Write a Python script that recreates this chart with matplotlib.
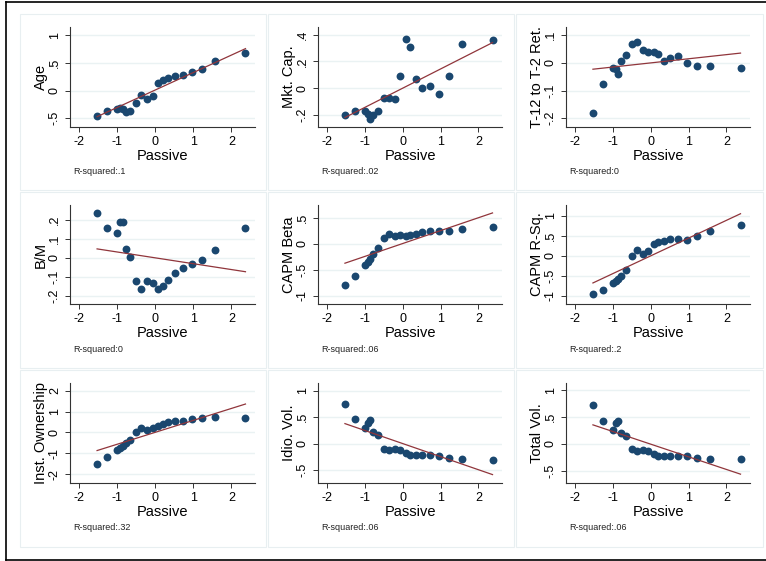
import matplotlib
matplotlib.use("Agg")
import matplotlib.pyplot as plt
from matplotlib.patches import Rectangle
from matplotlib.lines import Line2D
import numpy as np

plt.rcParams['font.family'] = ['Liberation Sans', 'DejaVu Sans']

# ---------------- data ----------------
passive = [-1.52, -1.26, -1.0, -0.92, -0.85, -0.77, -0.65, -0.49, -0.36, -0.21,
           -0.06, 0.08, 0.20, 0.35, 0.52, 0.72, 0.96, 1.22, 1.57, 2.37]

age = [-0.46, -0.36, -0.34, -0.32, -0.33, -0.38, -0.36, -0.23, -0.07, -0.15,
       -0.10, 0.13, 0.19, 0.22, 0.26, 0.29, 0.33, 0.40, 0.54, 0.68]
mktcap = [-0.20, -0.17, -0.17, -0.19, -0.23, -0.20, -0.17, -0.07, -0.07, -0.08,
          0.09, 0.37, 0.31, 0.07, 0.00, 0.015, -0.04, 0.09, 0.33, 0.36]
mom = [-0.18, -0.075, -0.02, -0.022, -0.04, 0.007, 0.03, 0.07, 0.076, 0.048,
       0.04, 0.04, 0.031, 0.007, 0.016, 0.025, -0.002, -0.012, -0.012, -0.02]
bm = [0.239, 0.156, 0.13, 0.19, 0.19, 0.046, 0.002, -0.125, -0.163, -0.125,
      -0.133, -0.165, -0.147, -0.116, -0.082, -0.054, -0.032, -0.014, 0.042, 0.156]
beta = [-0.79, -0.62, -0.42, -0.36, -0.30, -0.20, -0.08, 0.10, 0.18, 0.15,
        0.17, 0.15, 0.16, 0.19, 0.23, 0.24, 0.25, 0.24, 0.27, 0.32]
rsq = [-0.95, -0.85, -0.67, -0.62, -0.57, -0.50, -0.36, 0.0, 0.15, 0.04,
       0.12, 0.29, 0.35, 0.36, 0.41, 0.43, 0.40, 0.50, 0.63, 0.77]
instown = [-1.52, -1.18, -0.85, -0.75, -0.65, -0.52, -0.38, 0.02, 0.20, 0.12,
           0.20, 0.30, 0.42, 0.48, 0.56, 0.56, 0.64, 0.69, 0.72, 0.70]
idiovol = [0.75, 0.47, 0.30, 0.39, 0.45, 0.22, 0.17, -0.10, -0.13, -0.11,
           -0.13, -0.18, -0.22, -0.22, -0.22, -0.22, -0.24, -0.27, -0.29, -0.31]
totvol = [0.72, 0.43, 0.26, 0.39, 0.43, 0.20, 0.15, -0.09, -0.13, -0.11,
          -0.13, -0.18, -0.23, -0.22, -0.22, -0.22, -0.23, -0.26, -0.28, -0.29]

series = [age, mktcap, mom, bm, beta, rsq, instown, idiovol, totvol]
ylabels = ["Age", "Mkt. Cap.", "T-12 to T-2 Ret.", "B/M", "CAPM Beta",
           "CAPM R-Sq.", "Inst. Ownership", "Idio. Vol.", "Total Vol."]
r2_text = [".1", ".02", "0", "0", ".06", ".2", ".32", ".06", ".06"]
fit_intercept = [0.01, 0.0, 0.0, 0.0, 0.0, 0.0, 0.0, 0.0, -0.003]
fit_slope = [0.316, 0.144, 0.015, -0.031, 0.248, 0.444, 0.574, -0.249, -0.237]

yticks = [[-0.5, 0, 0.5, 1], [-0.2, 0, 0.2, 0.4], [-0.2, -0.1, 0, 0.1],
          [-0.2, -0.1, 0, 0.1, 0.2], [-1, -0.5, 0, 0.5], [-1, -0.5, 0, 0.5, 1],
          [-2, -1, 0, 1, 2], [-0.5, 0, 0.5, 1], [-0.5, 0, 0.5, 1]]
yticklabels = [['-.5', '0', '.5', '1'], ['-.2', '0', '.2', '.4'],
               ['-.2', '-.1', '0', '.1'], ['-.2', '-.1', '0', '.1', '.2'],
               ['-1', '-.5', '0', '.5'], ['-1', '-.5', '0', '.5', '1'],
               ['-2', '-1', '0', '1', '2'], ['-.5', '0', '.5', '1'],
               ['-.5', '0', '.5', '1']]
ylims = [(-0.657, 1.15), (-0.29, 0.458), (-0.232, 0.13), (-0.244, 0.279),
         (-1.16, 0.74), (-1.2, 1.27), (-2.43, 2.37), (-0.75, 1.15), (-0.73, 1.14)]
xticks = [-2, -1, 0, 1, 2]
xticklabels = ['-2', '-1', '0', '1', '2']

# ---------------- layout ----------------
W, H = 766, 561
fig = plt.figure(figsize=(W / 100, H / 100), dpi=100)
fig.patch.set_facecolor('white')

NAVY = '#1a476f'
MAROON = '#90353b'
GRID = '#eaf2f3'
BORDER = '#e8eff1'

def fx(px):
    return px / W

def fy(py):
    return 1 - py / H

# outer frame (black)
fig.add_artist(Line2D([fx(6), fx(6)], [fy(2), fy(560)], color='black', lw=1.2))
fig.add_artist(Line2D([fx(6), fx(766)], [fy(2), fy(2)], color='black', lw=1.2))
fig.add_artist(Line2D([fx(6), fx(766)], [fy(560), fy(560)], color='black', lw=1.2))

col_panels = [(20, 266), (268, 514), (516, 763)]
row_panels = [(14, 190), (192, 368), (370, 547)]
col_axes = [(70, 255), (318, 502), (566, 750)]
row_axes = [(27, 127), (205, 304), (383, 483)]

for r in range(3):
    for c in range(3):
        x0, x1 = col_panels[c]
        y0, y1 = row_panels[r]
        fig.add_artist(Rectangle((fx(x0), fy(y1)), fx(x1 - x0), (y1 - y0) / H,
                                 fill=False, edgecolor=BORDER, lw=0.8))

for i in range(9):
    r, c = divmod(i, 3)
    ax0, ax1 = col_axes[c]
    ay0, ay1 = row_axes[r]
    ax = fig.add_axes([fx(ax0), fy(ay1), fx(ax1 - ax0), (ay1 - ay0) / H])
    ys = series[i]
    ax.set_xlim(-2.23, 2.62)
    ax.set_ylim(*ylims[i])
    for t in yticks[i]:
        ax.axhline(t, color=GRID, lw=1.0, zorder=0)
    ax.scatter(passive, ys, s=32, color=NAVY, zorder=3, linewidths=0)
    xl = np.array([passive[0], passive[-1]])
    ax.plot(xl, fit_intercept[i] + fit_slope[i] * xl, color=MAROON, lw=0.9, zorder=4)
    for s in ['top', 'right']:
        ax.spines[s].set_visible(False)
    for s in ['left', 'bottom']:
        ax.spines[s].set_color('#333333')
        ax.spines[s].set_linewidth(0.8)
    ax.set_xticks(xticks)
    ax.set_xticklabels(xticklabels, fontsize=9)
    ax.set_yticks(yticks[i])
    ax.set_yticklabels(yticklabels[i], fontsize=9, rotation=90, va='center')
    ax.tick_params(axis='both', length=3.5, width=0.7, color='#333333', pad=3)
    ax.set_xlabel('Passive', fontsize=10.5, labelpad=0.5)
    ax.set_ylabel(ylabels[i], fontsize=10.5, labelpad=1)
    ax.patch.set_alpha(0)
    fig.text(fx(ax0 + 3), fy(ay1 + 45), 'R-squared:' + r2_text[i], fontsize=6.5,
             ha='left', va='center', color='#222222')

fig.savefig('out.png', dpi=100)
